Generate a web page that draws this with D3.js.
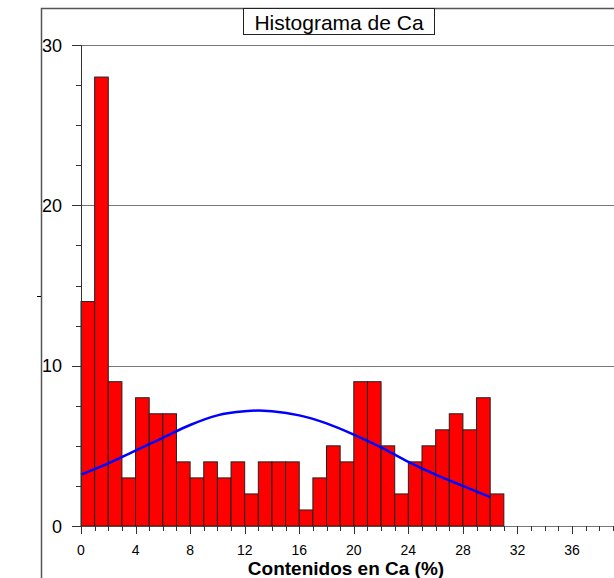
<!DOCTYPE html>
<html>
<head>
<meta charset="utf-8">
<script src="https://cdn.jsdelivr.net/npm/d3@7"></script>
<style>
  body { margin: 0; background: #fff; }
  svg { display: block; font-family: Arial, "Liberation Sans", sans-serif; }
</style>
</head>
<body>
<svg id="chart" width="614" height="578"></svg>
<script>
// histogram bins: [start, end) of 1 unit each
var binStarts = d3.range(0, 31);
var counts = [14, 28, 9, 3, 8, 7, 7, 4, 3, 4, 3, 4, 2, 4, 4, 4, 1, 3, 5, 4, 9, 9, 5, 2, 4, 5, 6, 7, 6, 8, 2];

// fitted normal curve
var curveX = [0, 2, 4, 6, 8, 10, 12, 13, 14, 16, 18, 20, 22, 24, 26, 28, 30];
var curveY = [3.2, 3.9, 4.7, 5.5, 6.3, 6.9, 7.15, 7.2, 7.15, 6.9, 6.4, 5.7, 4.9, 4.0, 3.2, 2.5, 1.8];

var xTicks = [0, 4, 8, 12, 16, 20, 24, 28, 32, 36, 40];
var xLabels = [0, 4, 8, 12, 16, 20, 24, 28, 32, 36];
var yTicks = [0, 10, 20, 30];

var svg = d3.select("#chart");

var x = d3.scaleLinear().domain([0, 40]).range([81, 626.6]);
var y = d3.scaleLinear().domain([0, 30]).range([526, 45]);

// outer frame (left + top)
svg.append("path")
  .attr("d", "M41.5,578V8.5H614")
  .attr("fill", "none")
  .attr("stroke", "#555")
  .attr("stroke-width", 1.5);
svg.append("line")
  .attr("x1", 37).attr("x2", 41)
  .attr("y1", 296.5).attr("y2", 296.5)
  .attr("stroke", "#000");

// horizontal grid
svg.append("g")
  .selectAll("line")
  .data(yTicks)
  .enter().append("line")
  .attr("x1", 72).attr("x2", 614)
  .attr("y1", function(d) { return Math.round(y(d)) + 0.5; })
  .attr("y2", function(d) { return Math.round(y(d)) + 0.5; })
  .attr("stroke", "#777")
  .attr("stroke-width", 1.2);

// bars
svg.append("g")
  .selectAll("rect")
  .data(binStarts)
  .enter().append("rect")
  .attr("x", function(d) { return x(d); })
  .attr("width", function(d) { return x(d + 1) - x(d); })
  .attr("y", function(d, i) { return y(counts[i]); })
  .attr("height", function(d, i) { return y(0) - y(counts[i]); })
  .attr("fill", "#ff0000")
  .attr("stroke", "#222")
  .attr("stroke-width", 1);

// normal curve
svg.append("path")
  .datum(curveX)
  .attr("fill", "none")
  .attr("stroke", "#0000ff")
  .attr("stroke-width", 2.5)
  .attr("d", d3.line()
    .x(function(d) { return x(d); })
    .y(function(d, i) { return y(curveY[i]); })
    .curve(d3.curveMonotoneX));

// y axis
var yAxis = svg.append("g");
yAxis.append("line")
  .attr("x1", 81.5).attr("x2", 81.5)
  .attr("y1", y(30)).attr("y2", y(0) + 8)
  .attr("stroke", "#333");
yAxis.selectAll(".minor")
  .data(d3.range(0, 30.01, 2.5))
  .enter().append("line")
  .attr("x1", 76).attr("x2", 81)
  .attr("y1", function(d) { return Math.round(y(d)) + 0.5; })
  .attr("y2", function(d) { return Math.round(y(d)) + 0.5; })
  .attr("stroke", "#333");
yAxis.selectAll(".major")
  .data(yTicks)
  .enter().append("line")
  .attr("x1", 72).attr("x2", 81)
  .attr("y1", function(d) { return Math.round(y(d)) + 0.5; })
  .attr("y2", function(d) { return Math.round(y(d)) + 0.5; })
  .attr("stroke", "#333");
yAxis.selectAll("text")
  .data(yTicks)
  .enter().append("text")
  .attr("x", 62)
  .attr("y", function(d) { return y(d) + 6.5; })
  .attr("text-anchor", "end")
  .attr("font-size", 18)
  .text(function(d) { return d; });

// x axis
var xAxis = svg.append("g");
xAxis.selectAll(".minor")
  .data(d3.range(0, 41, 1))
  .enter().append("line")
  .attr("x1", function(d) { return Math.round(x(d)) + 0.5; })
  .attr("x2", function(d) { return Math.round(x(d)) + 0.5; })
  .attr("y1", 526).attr("y2", 531)
  .attr("stroke", "#333");
xAxis.selectAll(".major")
  .data(xTicks)
  .enter().append("line")
  .attr("x1", function(d) { return Math.round(x(d)) + 0.5; })
  .attr("x2", function(d) { return Math.round(x(d)) + 0.5; })
  .attr("y1", 526).attr("y2", 534)
  .attr("stroke", "#333");
xAxis.selectAll("text")
  .data(xLabels)
  .enter().append("text")
  .attr("x", function(d) { return x(d); })
  .attr("y", 555)
  .attr("text-anchor", "middle")
  .attr("font-size", 14)
  .text(function(d) { return d; });

svg.append("text")
  .attr("x", 346)
  .attr("y", 575)
  .attr("text-anchor", "middle")
  .attr("font-size", 19)
  .attr("font-weight", "bold")
  .text("Contenidos en Ca (%)");

// title in a box
var title = svg.append("g");
title.append("rect")
  .attr("x", 243.5).attr("y", 8.5)
  .attr("width", 191).attr("height", 26)
  .attr("fill", "#fff")
  .attr("stroke", "#222");
title.append("text")
  .attr("x", 339)
  .attr("y", 29.5)
  .attr("text-anchor", "middle")
  .attr("font-size", 21)
  .text("Histograma de Ca");
</script>
</body>
</html>
